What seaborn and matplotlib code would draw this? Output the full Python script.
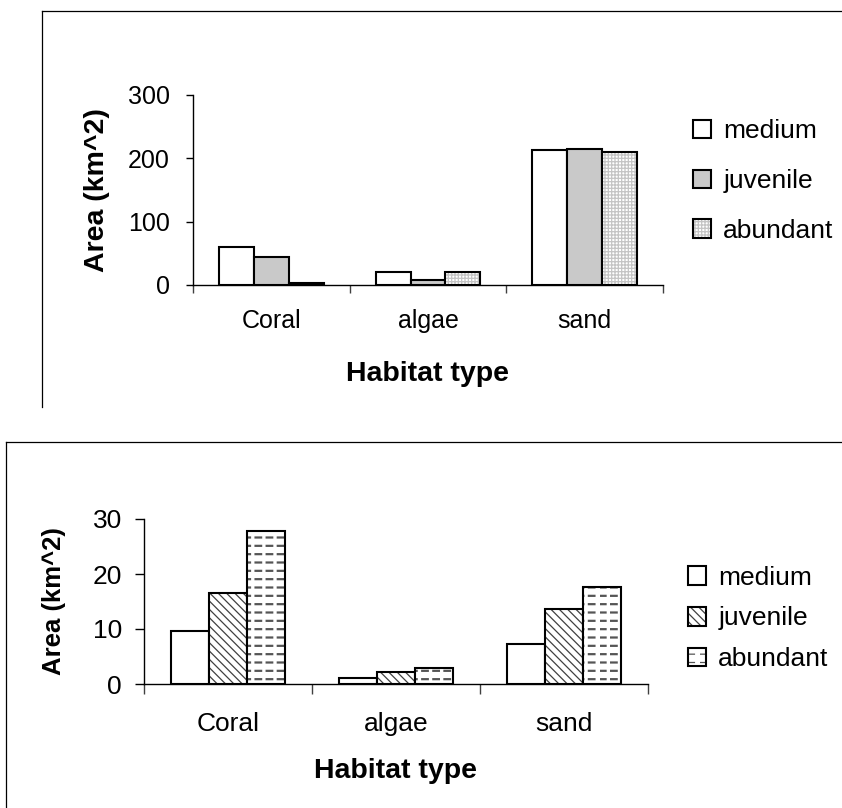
import numpy as np
import pandas as pd
import matplotlib
matplotlib.use("Agg")
import matplotlib.pyplot as plt
import seaborn as sns
import matplotlib.patches as mpatches
from matplotlib.lines import Line2D
from matplotlib.colors import to_rgba
from matplotlib import hatch as mhatch
from matplotlib.path import Path

# ---------------- data ----------------
habitats = ["Coral", "algae", "sand"]
groups = ["medium", "juvenile", "abundant"]

top_medium = [60.5, 20.5, 213]
top_juvenile = [43.8, 7.9, 214]
top_abundant = [2.7, 20.5, 210]
top_yticks = [0, 100, 200, 300]

bot_medium = [9.7, 1.1, 7.2]
bot_juvenile = [16.6, 2.2, 13.7]
bot_abundant = [27.9, 2.9, 17.6]
bot_yticks = [0, 10, 20, 30]

ylabel_text = "Area (km^2)"
xlabel_text = "Habitat type"

# ---------------- custom hatch: dashed horizontal for '-' ----------------
class PlusOnlyHorizontal(mhatch.HorizontalHatch):
    def __init__(self, hatch, density):
        self.num_lines = int(hatch.count('+') * density)
        self.num_vertices = self.num_lines * 2


class DashedHorizontalHatch(mhatch.HatchPatternBase):
    ndash = 9

    def __init__(self, hatch, density):
        self.num_lines = int(hatch.count('-') * density)
        self.num_vertices = self.num_lines * self.ndash * 2

    def set_vertices_and_codes(self, vertices, codes):
        steps, stepsize = np.linspace(0.0, 1.0, self.num_lines, False, retstep=True)
        steps += stepsize / 2.0
        starts = np.arange(self.ndash) / self.ndash
        dash = 0.5 / self.ndash
        xs0 = np.tile(starts, self.num_lines)
        ys = np.repeat(steps, self.ndash)
        vertices[0::2, 0] = xs0
        vertices[0::2, 1] = ys
        vertices[1::2, 0] = xs0 + dash
        vertices[1::2, 1] = ys
        codes[0::2] = Path.MOVETO
        codes[1::2] = Path.LINETO


mhatch._hatch_types[0] = PlusOnlyHorizontal
mhatch._hatch_types.append(DashedHorizontalHatch)

# ---------------- style ----------------
plt.rcParams['font.family'] = ['Liberation Sans', 'DejaVu Sans']
plt.rcParams['hatch.linewidth'] = 0.9
plt.rcParams['axes.linewidth'] = 1.0


def set_hstyle(p, c, lw=None):
    if hasattr(p, "set_hatchcolor"):
        p.set_hatchcolor(c)
    else:
        p._hatch_color = to_rgba(c)
    if lw is not None:
        if hasattr(p, "set_hatch_linewidth"):
            p.set_hatch_linewidth(lw)
        else:
            p._hatch_linewidth = lw
    p.stale = True


W, H = 842, 808
fig = plt.figure(figsize=(W / 100, H / 100), dpi=100)


def px_axes(left, right, top, bottom):
    return fig.add_axes([left / W, 1 - bottom / H, (right - left) / W, (bottom - top) / H])


def make_panel(ax, medium, juvenile, abundant, styles, width, yticks,
               tick_fs, label_fs_y, label_fs_x, ytick_len, ytick_pad, xtick_pad,
               ylab_x, xlab_y, leg_x, leg_y, leg_fs, leg_spacing):
    df = pd.DataFrame({
        "Habitat": habitats * 3,
        "Group": np.repeat(groups, 3),
        "Area": list(medium) + list(juvenile) + list(abundant),
    })
    palette = {g: styles[g][0] for g in groups}
    sns.barplot(data=df, x="Habitat", y="Area", hue="Group", order=habitats,
                hue_order=groups, palette=palette, width=width, saturation=1,
                edgecolor="black", linewidth=1.5, errorbar=None, legend=False, ax=ax)
    for cont, g in zip(ax.containers, groups):
        fc, hatch, hc, hlw = styles[g]
        for p in cont:
            if hatch:
                p.set_hatch(hatch)
            set_hstyle(p, hc, hlw)

    ax.set_xlim(-0.5, 2.5)
    ax.set_ylim(yticks[0], yticks[-1])
    ax.set_yticks(yticks)
    ax.set_yticklabels([str(t) for t in yticks], fontsize=tick_fs)
    ax.set_xticks(range(len(habitats)))
    ax.set_xticklabels(habitats, fontsize=tick_fs)
    ax.set_xticks([-0.5, 0.5, 1.5, 2.5], minor=True)
    ax.tick_params(axis="x", which="major", length=0, pad=xtick_pad)
    ax.tick_params(axis="x", which="minor", length=ytick_len + 1, width=1.0,
                   direction="out", color="#404040")
    ax.tick_params(axis="y", which="major", length=ytick_len, width=1.0,
                   direction="out", pad=ytick_pad)
    for s in ["top", "right"]:
        ax.spines[s].set_visible(False)
    for s in ["left", "bottom"]:
        ax.spines[s].set_color("black")
        ax.spines[s].set_linewidth(1.0)
    ax.set_facecolor("none")

    ax.set_ylabel(ylabel_text, fontsize=label_fs_y, fontweight="bold")
    ax.yaxis.set_label_coords(ylab_x, 0.5)
    ax.set_xlabel(xlabel_text, fontsize=label_fs_x, fontweight="bold")
    ax.xaxis.set_label_coords(0.5, xlab_y)

    handles = []
    for g in groups:
        fc, hatch, hc, hlw = styles[g]
        h = mpatches.Patch(facecolor=fc, edgecolor="black", linewidth=1.5,
                           hatch=hatch if hatch else None, label=g)
        set_hstyle(h, hc, hlw)
        handles.append(h)
    fig.legend(handles=handles, loc="center left",
               bbox_to_anchor=(leg_x / W, 1 - leg_y / H),
               frameon=False, fontsize=leg_fs, borderpad=0, borderaxespad=0,
               handlelength=0.7, handleheight=0.7, handletextpad=0.45,
               labelspacing=leg_spacing)


# ---------------- top panel ----------------
ax1 = px_axes(193, 663, 95, 285)
top_styles = {
    "medium": ("white", None, "black", None),
    "juvenile": ("#c9c9c9", None, "black", None),
    "abundant": ("white", "+++++", "#c4c4c4", None),
}
make_panel(ax1, top_medium, top_juvenile, top_abundant, top_styles, 0.67, top_yticks,
           tick_fs=18, label_fs_y=20.5, label_fs_x=20.5, ytick_len=5, ytick_pad=11.5,
           xtick_pad=17.5, ylab_x=(110 - 193) / 470, xlab_y=(285 - 361) / 190,
           leg_x=693, leg_y=181, leg_fs=19, leg_spacing=0.97)

# ---------------- bottom panel ----------------
ax2 = px_axes(144, 648, 519, 684)
bot_styles = {
    "medium": ("white", None, "black", None),
    "juvenile": ("white", "\\\\\\\\", "#404040", 0.9),
    "abundant": ("white", "--", "#555555", 1.6),
}
make_panel(ax2, bot_medium, bot_juvenile, bot_abundant, bot_styles, 0.68, bot_yticks,
           tick_fs=19, label_fs_y=18.5, label_fs_x=20.5, ytick_len=6.5, ytick_pad=9.4,
           xtick_pad=20, ylab_x=(66 - 144) / 504, xlab_y=(684 - 758) / 165,
           leg_x=688, leg_y=618.5, leg_fs=19, leg_spacing=0.63)

# ---------------- outer frames ----------------
def fline(xs, ys):
    fig.add_artist(Line2D([x / W for x in xs], [1 - y / H for y in ys],
                          transform=fig.transFigure, color="black", lw=0.9))

fline([42, 42], [11, 407])
fline([42, W], [11, 11])
fline([6, 6], [442, H])
fline([6, W], [442, 442])

fig.savefig("out.png", dpi=100)
